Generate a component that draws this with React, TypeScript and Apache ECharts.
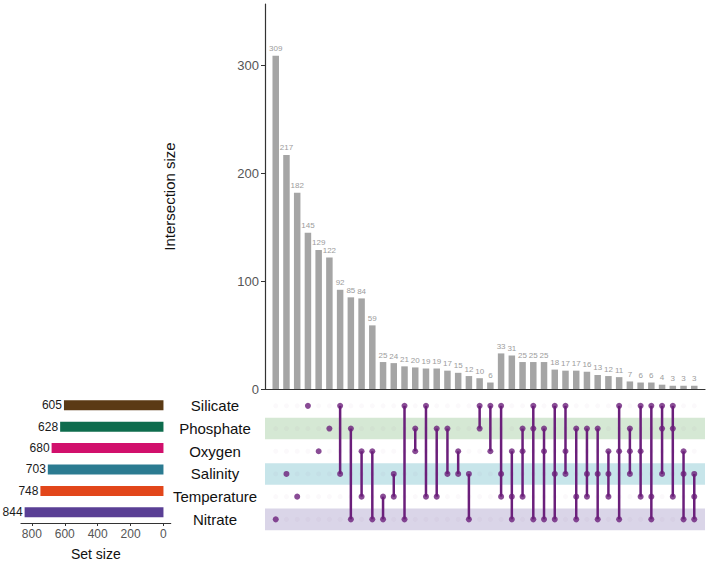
import React, { useEffect, useRef } from "react";
import * as echarts from "echarts";

// Sets, their sizes and colours (top to bottom in the matrix)
const sets = ["Silicate", "Phosphate", "Oxygen", "Salinity", "Temperature", "Nitrate"];
const setSizes = [605, 628, 680, 703, 748, 844];
const setColors = ["#5b3a15", "#0e6c4d", "#d1106c", "#2b7b91", "#e2461a", "#5a3f95"];
const stripeRows = [1, 3, 5];
const stripeColors = ["#d5e8d4", "#c7e5ea", "#dad5e8"];

// Intersection sizes, in plotted order
const intersectionSizes = [
  309, 217, 182, 145, 129, 122, 92, 85, 84, 59, 25, 24, 21, 20, 19, 19, 17, 15, 12, 10, 6,
  33, 31, 25, 25, 25, 18, 17, 17, 16, 13, 12, 11, 7, 6, 6, 4, 3, 3, 3,
];

// Members of each intersection (indexes into sets)
const memberships = [
  [5], [3], [4], [0], [2], [1],
  [0, 3], [1, 5], [2, 4], [2, 5], [4, 5], [3, 4], [0, 5], [1, 2], [0, 4], [1, 4], [1, 3], [2, 3], [3, 5], [0, 1], [0, 2],
  [0, 3, 4], [2, 4, 5], [1, 2, 4], [0, 1, 5], [1, 2, 5], [0, 3, 5], [0, 2, 3], [1, 4, 5], [1, 3, 4], [1, 3, 5],
  [2, 3, 4], [0, 2, 5], [1, 2, 3], [0, 2, 4], [0, 4, 5], [0, 1, 3], [0, 1, 4], [2, 3, 5], [3, 4, 5],
];

const intersectionTicks = [0, 100, 200, 300];
const setSizeTicks = [0, 200, 400, 600, 800];

const FONT = "'Liberation Sans', Arial, sans-serif";
const DOT = "#6b1f7b";

export default function App() {
  const ref = useRef<HTMLDivElement>(null);

  useEffect(() => {
    if (!ref.current) return;
    const chart = echarts.init(ref.current, undefined, { renderer: "svg" });

    const activeDots: number[][] = [];
    const inactiveDots: number[][] = [];
    memberships.forEach((m, i) => {
      sets.forEach((_, r) => {
        if (m.includes(r)) activeDots.push([i, r]);
        else inactiveDots.push([i, r]);
      });
    });
    const connectors = memberships
      .map((m, i) => [i, Math.min(...m), Math.max(...m)])
      .filter((d) => d[1] !== d[2]);

    chart.setOption({
      animation: false,
      textStyle: { fontFamily: FONT },
      grid: [
        { left: 265, top: 4, width: 440, height: 385 },
        { left: 265, top: 394.5, width: 440, height: 136.2 },
        { left: 21, top: 394.5, width: 149.7, height: 136.2 },
      ],
      xAxis: [
        {
          gridIndex: 0, type: "value", min: -1, max: 40,
          axisLine: { show: true, onZero: false, lineStyle: { color: "#333", width: 1.2 } },
          axisTick: { show: false }, axisLabel: { show: false }, splitLine: { show: false },
        },
        { gridIndex: 1, type: "value", min: -1, max: 40, show: false },
        {
          gridIndex: 2, type: "value", inverse: true, min: -44, max: 866,
          axisLine: { show: true, onZero: false, lineStyle: { color: "#333", width: 1.2 } },
          axisTick: { show: true, length: 3, customValues: setSizeTicks, lineStyle: { color: "#333" } },
          axisLabel: { customValues: setSizeTicks, fontSize: 12, color: "#555", margin: 5 },
          splitLine: { show: false },
          name: "Set size", nameLocation: "middle", nameGap: 24,
          nameTextStyle: { fontSize: 14, color: "#111" },
        },
      ],
      yAxis: [
        {
          gridIndex: 0, type: "value", min: 0, max: 357,
          axisLine: { show: true, onZero: false, lineStyle: { color: "#333", width: 1.2 } },
          axisTick: { show: true, length: 4, customValues: intersectionTicks, lineStyle: { color: "#333" } },
          axisLabel: { customValues: intersectionTicks, fontSize: 13, color: "#555", margin: 6 },
          splitLine: { show: false },
          name: "Intersection size", nameLocation: "middle", nameGap: 88,
          nameTextStyle: { fontSize: 15, color: "#111" },
        },
        {
          gridIndex: 1, type: "category", data: sets, inverse: true,
          axisLine: { show: false }, axisTick: { show: false },
          axisLabel: { margin: 50, align: "center", fontSize: 15, color: "#111" },
        },
        { gridIndex: 2, type: "category", data: sets, inverse: true, show: false },
      ],
      series: [
        {
          type: "bar", xAxisIndex: 0, yAxisIndex: 0, barWidth: 6.5,
          data: intersectionSizes.map((v, i) => [i, v]),
          itemStyle: { color: "#a5a5a5" },
          label: { show: true, position: "top", fontSize: 8, color: "#9c9c9c", distance: 3,
            formatter: (p: any) => String(p.value[1]) },
        },
        {
          type: "custom", xAxisIndex: 1, yAxisIndex: 1, z: 1,
          data: stripeRows.map((r, k) => [0, r, k]),
          renderItem: (params: any, api: any) => {
            const c = api.coord([0, api.value(1)]);
            const cs = params.coordSys;
            return {
              type: "rect",
              shape: { x: cs.x, y: c[1] - 10.8, width: cs.width, height: 21.6 },
              style: { fill: stripeColors[api.value(2)] },
            };
          },
        },
        {
          type: "scatter", xAxisIndex: 1, yAxisIndex: 1, z: 2, symbolSize: 5,
          data: inactiveDots, itemStyle: { color: "rgba(107,31,123,0.035)" },
        },
        {
          type: "custom", xAxisIndex: 1, yAxisIndex: 1, z: 3,
          data: connectors,
          renderItem: (params: any, api: any) => {
            const a = api.coord([api.value(0), api.value(1)]);
            const b = api.coord([api.value(0), api.value(2)]);
            return {
              type: "line",
              shape: { x1: a[0], y1: a[1], x2: b[0], y2: b[1] },
              style: { stroke: DOT, lineWidth: 2.5 },
            };
          },
        },
        {
          type: "scatter", xAxisIndex: 1, yAxisIndex: 1, z: 4, symbolSize: 6,
          data: activeDots, itemStyle: { color: DOT },
        },
        {
          type: "bar", xAxisIndex: 2, yAxisIndex: 2, barWidth: 10,
          data: setSizes.map((v, i) => ({ value: v, itemStyle: { color: setColors[i] } })),
          label: { show: true, position: "left", fontSize: 12, color: "#1a1a1a", distance: 2 },
        },
      ],
    });

    return () => chart.dispose();
  }, []);

  return (
    <div
      ref={ref}
      style={{ position: "fixed", left: 0, top: 0, width: 709, height: 562, background: "#fff" }}
    />
  );
}
